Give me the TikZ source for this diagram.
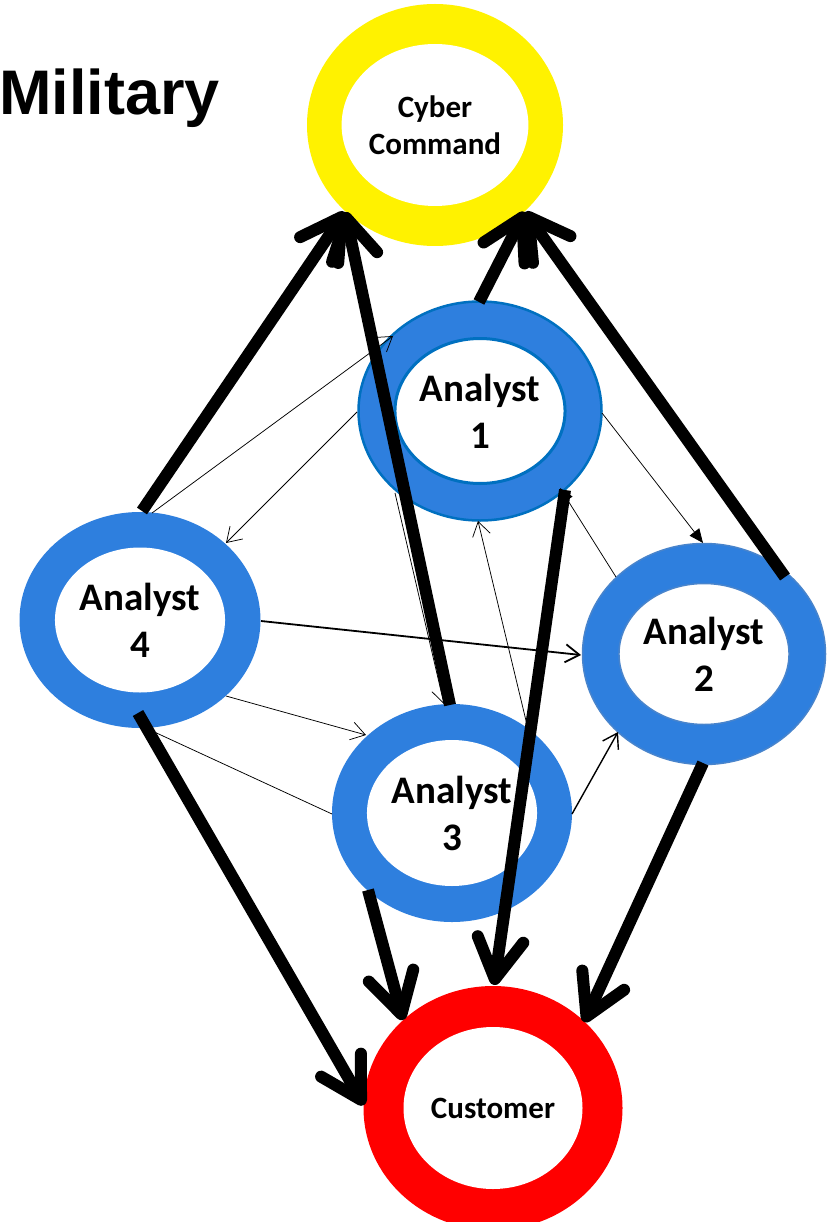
\documentclass[tikz,border=0pt]{standalone}
\usepackage{fontspec}
\setmainfont{Carlito}
\newfontfamily\titlefont{Liberation Sans}
\usetikzlibrary{shapes.geometric,arrows.meta,calc}
\definecolor{ringblue}{RGB}{46,127,222}
\definecolor{edgeblue}{RGB}{0,112,192}
\definecolor{paleedge}{RGB}{72,132,204}
\begin{document}
\begin{tikzpicture}[x=1pt,y=1pt,
  ring/.style={ellipse,inner sep=0pt,outer sep=0pt,fill=#1},
  hole/.style={ellipse,inner sep=0pt,outer sep=0pt,fill=white,align=center},
  labbig/.style={font=\bfseries\fontsize{39}{47}\selectfont},
  labsmall/.style={font=\bfseries\fontsize{31}{37}\selectfont},
  big/.style={line width=12pt,-{Straight Barb[length=40pt,width=46pt,round]}},
  lnk/.style={line width=0.75pt,-{Straight Barb[length=14pt,width=18pt]}},
  solidhead/.style={line width=0.75pt,-{Triangle[length=14pt,width=12pt]}},
]
\clip (0,0) rectangle (828,-1222);
\fill[white] (0,0) rectangle (828,-1222);

% title
\node[anchor=base west,inner sep=0pt,font=\titlefont\bfseries\fontsize{63}{75}\selectfont]
  (title) at (-1,-115) {Military};

% rings
\node[ring=yellow,minimum width=256pt,minimum height=242pt] (cc) at (435,-125) {};
\node[hole,labsmall,minimum width=178pt,minimum height=162pt] (cci) at (cc) {Cyber\\Command};

\node[ring=ringblue,draw=edgeblue,line width=2.5pt,minimum width=243pt,minimum height=219pt] (a1) at (480,-411) {};
\node[hole,labbig,draw=edgeblue,line width=3pt,minimum width=168pt,minimum height=145pt] (a1i) at (a1) {Analyst\\1};

\node[ring=ringblue,minimum width=241pt,minimum height=216pt] (a4) at (140,-620) {};
\node[hole,labbig,minimum width=169pt,minimum height=145pt] (a4i) at (a4) {Analyst\\4};

\node[ring=ringblue,draw=paleedge,line width=1.5pt,minimum width=243pt,minimum height=221pt] (a2) at (704,-654) {};
\node[hole,labbig,draw=paleedge,line width=1.5pt,minimum width=167pt,minimum height=141pt] (a2i) at (a2) {Analyst\\2};

\node[ring=ringblue,minimum width=240pt,minimum height=218pt] (a3) at (452,-813) {};
\node[hole,labbig,minimum width=169pt,minimum height=146pt] (a3i) at (a3) {Analyst\\3};

\node[ring=red,minimum width=259pt,minimum height=244pt] (cu) at (493,-1108) {};
\node[hole,labsmall,minimum width=179pt,minimum height=162pt] (cui) at (cu) {Customer};

% analyst-to-analyst links
\draw[lnk] ($(a4)+(12,107)$) -- ($(a1)+(-87,75)$);
\draw[lnk] ($(a1)+(-123,-1)$) -- ($(a4)+(86,77)$);
\draw[solidhead] ($(a1)+(122,-2)$) -- ($(a2)+(-1,111)$);
\draw[solidhead] ($(a2)+(-88,77)$) -- ($(a1)+(80,-77)$);
\draw[lnk] ($(a3)+(76,84)$) -- ($(a1)+(-2,-110)$);
\draw[lnk] ($(a1)+(-85,-82)$) -- ($(a3)+(-8,109)$);
\draw[lnk,line width=1.8pt] ($(a4)+(121,-1)$) -- ($(a2)+(-123,-1)$);
\draw[lnk] ($(a4)+(86,-76)$) -- ($(a3)+(-86,78)$);
\draw[line width=0.75pt] ($(a4)+(10,-110)$) -- ($(a3)+(-120,-1)$);
\draw[lnk,line width=1.4pt] ($(a3)+(120,-1)$) -- ($(a2)+(-86,-78)$);

% reporting lines
\draw[big] ($(a4)+(2,109)$) -- ($(cc)+(-90,-87)$);
\draw[big] ($(a3)+(-2,108)$) -- ($(cc)+(-90,-87)$);
\draw[big] ($(a1)+(-1,109)$) -- ($(cc)+(90,-87)$);
\draw[big] ($(a2)+(81,77)$) -- ($(cc)+(90,-87)$);
\draw[big] ($(a4)+(-2,-93)$) -- ($(cu)+(-129,3)$);
\draw[big] ($(a3)+(-84,-77)$) -- ($(cu)+(-90,88)$);
\draw[big] ($(a1)+(85,-79)$) -- ($(cu)+(1,123)$);
\draw[big] ($(a2)+(-1,-109)$) -- ($(cu)+(91,86)$);
\end{tikzpicture}
\end{document}
